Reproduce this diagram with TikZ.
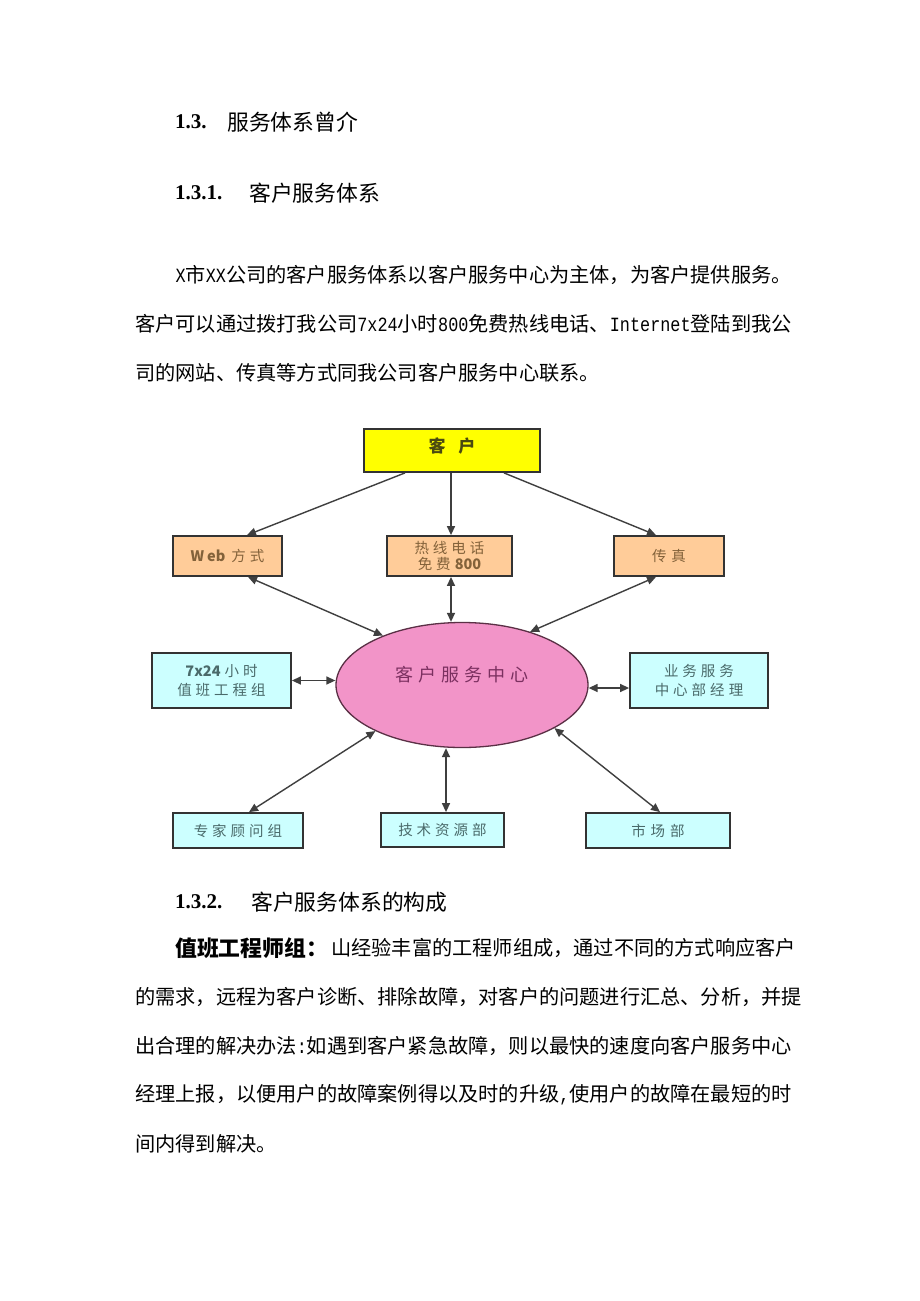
\documentclass[tikz,border=0pt]{standalone}
\usepackage{fontspec}
\usepackage{graphicx}
\usetikzlibrary{arrows.meta,shapes.geometric}
\setmainfont{Liberation Serif}
\newfontfamily\cjk{Noto Sans CJK SC}
\newfontfamily\lat{Liberation Mono}
\definecolor{yel}{HTML}{FFFF00}
\definecolor{peach}{HTML}{FFCC99}
\definecolor{cyanbox}{HTML}{CCFFFF}
\definecolor{pinkc}{HTML}{F294C8}
\definecolor{boxline}{HTML}{333333}
\definecolor{arrcol}{HTML}{3F3F3F}
\definecolor{ellline}{HTML}{5A3045}
\definecolor{tolive}{HTML}{4A4A10}
\definecolor{tbrown}{HTML}{83623A}
\definecolor{tteal}{HTML}{4A6A6A}
\definecolor{tpurple}{HTML}{7B3060}
\newcommand{\hw}[1]{\scalebox{0.833}[1]{\fontsize{20.2}{20.2}\lat #1}}
\newcommand{\hg}{\hspace{4pt}}
\newcommand{\lb}[1]{{\bfseries #1}}
\begin{document}
\begin{tikzpicture}[x=1pt,y=-1pt,
  hnum/.style={anchor=west,inner sep=0pt,font=\fontsize{21}{21}\selectfont\bfseries},
  hcjk/.style={anchor=west,inner sep=0pt,font=\fontsize{21.8}{22}\cjk},
  para/.style={anchor=west,inner sep=0pt,font=\fontsize{20.2}{22}\cjk},
  box/.style={draw=boxline,line width=1.8pt,inner sep=0pt,align=center},
  pbox/.style={box,fill=peach,text=tbrown,font=\fontsize{14.5}{16}\cjk},
  cbox/.style={box,fill=cyanbox,text=tteal,font=\fontsize{14.5}{19}\cjk},
  arr/.style={draw=arrcol,line width=1.4pt,-{Triangle[length=9pt,width=8pt]}},
  darr/.style={draw=arrcol,line width=1.4pt,{Triangle[length=9pt,width=8pt]}-{Triangle[length=9pt,width=8pt]}}]
\fill[white] (0,0) rectangle (920,1301);
\useasboundingbox (0,0) rectangle (920,1301);

% headings
\node[hnum] (h1n) at (175,122) {1.3.};
\node[hcjk] (h1t) at (227,122) {服务体系曾介};
\node[hnum] (h2n) at (175,193) {1.3.1.};
\node[hcjk] (h2t) at (249,193) {客户服务体系};
\node[hnum] (h3n) at (175,902) {1.3.2.};
\node[hcjk] (h3t) at (251,902) {客户服务体系的构成};

% paragraph 1
\node[para] (p1) at (175.4,275) {\hw{X}市\hw{XX}公司的客户服务体系以客户服务中心为主体，为客户提供服务。};
\node[para] (p2) at (135,324) {客户可以通过拨打我公司\hw{7x24}小时\hw{800}免费热线电话、\hw{Internet}登陆到我公};
\node[para] (p3) at (135,373) {司的网站、传真等方式同我公司客户服务中心联系。};

% paragraph 2
\node[anchor=west,inner sep=0pt,font=\fontsize{21.8}{22}\cjk\bfseries] (q0) at (175,948) {值班工程师组：};
\node[para] (q1) at (331,948) {山经验丰富的工程师组成，通过不同的方式响应客户};
\node[para] (q2) at (135,997) {的需求，远程为客户诊断、排除故障，对客户的问题进行汇总、分析，并提};
\node[para] (q3) at (135,1046) {出合理的解决办法\hw{:}如遇到客户紧急故障，则以最快的速度向客户服务中心};
\node[para] (q4) at (135,1095) {经理上报，以便用户的故障案例得以及时的升级\hw{,}使用户的故障在最短的时};
\node[para] (q5) at (135,1144) {间内得到解决。};

% diagram nodes
\node[box,fill=yel,text=tolive,font=\fontsize{17}{18}\cjk\bfseries,minimum width=176pt,minimum height=43pt] (kh) at (452,450.5) {\raisebox{11pt}{客\hspace{13pt}户}};
\node[pbox,minimum width=109pt,minimum height=40pt] (web) at (227.5,556) {\lb{W\hspace{3pt}eb}\hspace{6pt}方\hg 式};
\node[pbox,minimum width=125pt,minimum height=40pt] (rx) at (449.5,556) {热\hg 线\hg 电\hg 话\\免\hg 费\hg\lb{800}};
\node[pbox,minimum width=110pt,minimum height=40pt] (fax) at (669,556) {传\hspace{5pt}真};
\node[ellipse,draw=ellline,line width=1.3pt,fill=pinkc,text=tpurple,inner sep=0pt,minimum width=252pt,minimum height=125pt,font=\fontsize{18}{18}\cjk] (zx) at (462,685) {\raisebox{22pt}{客\hspace{5pt}户\hspace{5pt}服\hspace{5pt}务\hspace{5pt}中\hspace{5pt}心}};
\node[cbox,minimum width=139pt,minimum height=55pt] (duty) at (221.5,680.5) {\lb{7x24}\hspace{4pt}小\hg 时\\值\hg 班\hg 工\hg 程\hg 组};
\node[cbox,minimum width=138pt,minimum height=55pt] (biz) at (699,680.5) {业\hg 务\hg 服\hg 务\\中\hg 心\hg 部\hg 经\hg 理};
\node[cbox,minimum width=130pt,minimum height=35pt] (exp) at (238,830.5) {专\hg 家\hg 顾\hg 问\hg 组};
\node[cbox,minimum width=123pt,minimum height=34pt] (tech) at (442.5,830) {技\hg 术\hg 资\hg 源\hg 部};
\node[cbox,minimum width=144pt,minimum height=35pt] (mkt) at (658,830.5) {市\hspace{5pt}场\hspace{5pt}部};

% connectors
\draw[arr] ([xshift=-47pt]kh.south) -- ([xshift=19.5pt]web.north);
\draw[arr] ([xshift=-1pt]kh.south) -- ([xshift=1.5pt]rx.north);
\draw[arr] ([xshift=52pt]kh.south) -- ([xshift=-13pt]fax.north);
\draw[darr] ([xshift=20.5pt]web.south) -- (zx.148);
\draw[darr] ([xshift=1.5pt]rx.south) -- ([xshift=1.5pt]rx.south |- zx.north);
\draw[darr] ([xshift=-13pt]fax.south) -- (zx.38);
\draw[darr] (duty.east) -- (duty.east -| zx.west);
\draw[darr] ([yshift=-7.5pt]biz.west) -- ([yshift=-7.5pt]biz.west -| zx.east);
\draw[darr] (zx.208) -- ([xshift=11pt]exp.north);
\draw[darr] ([xshift=3.5pt]tech.north |- zx.south) -- ([xshift=3.5pt]tech.north);
\draw[darr] (zx.335) -- ([xshift=2pt]mkt.north);
\end{tikzpicture}
\end{document}
